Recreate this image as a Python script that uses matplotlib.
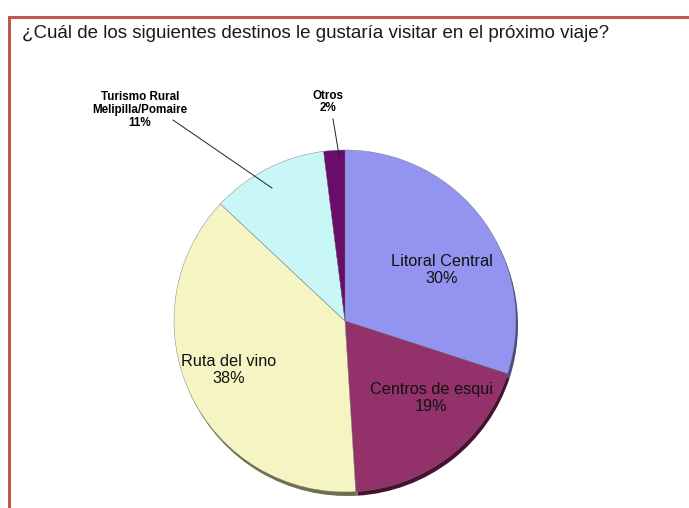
import matplotlib
matplotlib.use("Agg")
import matplotlib.pyplot as plt
from matplotlib.patches import Rectangle
import numpy as np

categories = ["Litoral Central", "Centros de esqui", "Ruta del vino",
              "Turismo Rural\nMelipilla/Pomaire", "Otros"]
values = [30, 19, 38, 11, 2]
colors = ["#9393F0", "#93316A", "#F5F5C4", "#C9F6F6", "#6A0C6A"]
shadow_colors = ["#4A4A80", "#4A1030", "#6E6E50", "#607070", "#300030"]
title = "¿Cuál de los siguientes destinos le gustaría visitar en el próximo viaje?"

W, H = 689, 508
fig = plt.figure(figsize=(W / 100, H / 100), dpi=100)
ax = fig.add_axes([0, 0, 1, 1])

cx, cy, r = 345, H - 321, 171

# shadow pie
ax.pie(values, colors=shadow_colors, startangle=90, counterclock=False,
       center=(cx + 2, cy - 4), radius=r, frame=True,
       wedgeprops=dict(linewidth=0))
# main pie
wedges, _ = ax.pie(values, colors=colors, startangle=90, counterclock=False,
                   center=(cx, cy), radius=r, frame=True,
                   wedgeprops=dict(linewidth=0.3, edgecolor="#777777"))
ax.set_xlim(0, W)
ax.set_ylim(0, H)
ax.set_aspect("auto")
ax.axis("off")

# border
ax.add_patch(Rectangle((8.5, -20), 720, H - 16.5 + 20, fill=False,
                       edgecolor="#C0584A", linewidth=2.2))

ax.text(22, H - 34, title, fontsize=13.5, family="Liberation Sans",
        ha="left", va="center", color="#1a1a1a")

# inside labels
inside = {0: (442, 270), 1: (431, 398), 2: (229, 370)}
for i, (x, y) in inside.items():
    ax.text(x, H - y, f"{categories[i]}\n{values[i]}%", fontsize=11.7,
            family="Liberation Sans", ha="center", va="center",
            color="#111111", linespacing=1.15)

# outside labels
ax.text(140, H - 110, f"{categories[3]}\n{values[3]}%", fontsize=8.4,
        family="Liberation Sans", fontweight="bold", ha="center",
        va="center", linespacing=1.1)
ax.plot([173, 272], [H - 120, H - 188], color="#222222", lw=0.7)
ax.text(328, H - 102, f"{categories[4]}\n{values[4]}%", fontsize=8.4,
        family="Liberation Sans", fontweight="bold", ha="center",
        va="center", linespacing=1.1)
ax.plot([333, 339], [H - 119, H - 155], color="#222222", lw=0.7)

fig.savefig("out.png", dpi=100)
